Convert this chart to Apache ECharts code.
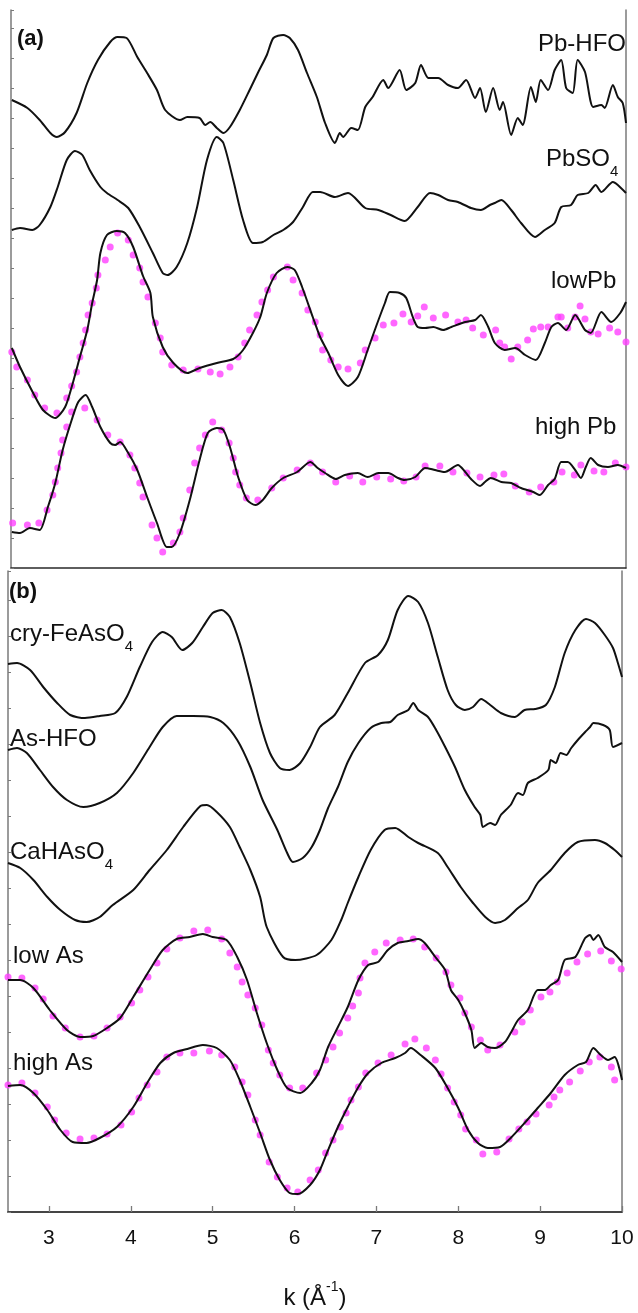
<!DOCTYPE html>
<html>
<head>
<meta charset="utf-8">
<script src="https://cdn.jsdelivr.net/npm/echarts/dist/echarts.min.js"></script>
<style>
  html, body { margin: 0; padding: 0; background: #fff; }
  #chart { width: 638px; height: 1313px; }
</style>
</head>
<body>
<div id="chart"></div>
<script>
// k axis ticks (both panels share 2.5 - 10)
const kTicks = [3, 4, 5, 6, 7, 8, 9, 10];

// ---- panel (a): Pb edge, curves stacked with offsets (arb. units) ----
const pbHfo = [[2.51,46.8],[2.70,46.0],[2.85,44.8],[2.98,43.5],[3.06,43.1],[3.16,43.6],[3.30,45.5],[3.43,48.5],[3.56,50.8],[3.71,52.6],[3.80,53.1],[3.91,53.0],[4.04,51.1],[4.16,49.5],[4.28,47.8],[4.38,45.8],[4.56,44.8],[4.65,45.1],[4.80,45.0],[4.87,44.3],[4.93,44.6],[5.01,44.0],[5.09,43.5],[5.17,44.1],[5.29,45.8],[5.41,47.8],[5.51,49.5],[5.62,51.3],[5.70,53.0],[5.82,53.3],[5.90,53.0],[6.00,51.8],[6.11,49.5],[6.23,47.1],[6.33,44.5],[6.45,42.5],[6.51,43.5],[6.55,43.1],[6.65,44.0],[6.73,43.8],[6.82,46.1],[6.91,47.1],[7.04,48.8],[7.10,48.0],[7.24,49.8],[7.32,47.8],[7.43,48.5],[7.50,50.3],[7.59,49.0],[7.71,49.0],[7.83,48.3],[7.95,48.0],[8.05,48.8],[8.16,47.0],[8.22,48.0],[8.29,45.6],[8.38,48.0],[8.46,45.8],[8.50,46.6],[8.60,43.3],[8.68,45.0],[8.74,44.3],[8.84,48.1],[8.90,46.6],[8.96,48.8],[9.05,47.8],[9.13,49.8],[9.21,50.8],[9.27,48.0],[9.35,47.5],[9.41,50.8],[9.50,49.6],[9.60,46.1],[9.70,46.3],[9.74,46.0],[9.84,48.3],[9.90,47.1],[9.96,46.5],[10.0,44.5]];

const pbSo4 = [[2.51,33.8],[2.61,34.0],[2.76,33.8],[2.85,34.3],[2.98,36.1],[3.07,38.1],[3.18,40.8],[3.28,41.7],[3.37,41.3],[3.46,39.8],[3.59,38.1],[3.67,37.5],[3.80,36.8],[3.93,36.0],[4.07,34.1],[4.23,31.5],[4.35,29.5],[4.41,29.3],[4.52,30.1],[4.65,32.5],[4.77,36.1],[4.89,40.8],[5.01,43.1],[5.09,42.5],[5.21,38.8],[5.33,34.8],[5.45,32.5],[5.57,32.6],[5.70,33.3],[5.82,33.8],[5.94,34.6],[6.06,36.1],[6.18,37.6],[6.27,37.6],[6.45,37.1],[6.61,37.5],[6.82,36.0],[6.98,35.8],[7.13,35.3],[7.30,34.7],[7.46,36.1],[7.61,37.5],[7.71,37.3],[7.83,36.8],[7.95,36.6],[8.11,36.0],[8.23,35.8],[8.34,36.3],[8.40,36.5],[8.48,36.8],[8.60,35.8],[8.72,34.5],[8.89,33.1],[9.01,33.8],[9.13,34.5],[9.21,36.1],[9.33,36.3],[9.41,37.3],[9.54,37.5],[9.63,38.3],[9.70,37.6],[9.84,38.6],[9.90,38.3],[10.0,37.5]];

const lowPb = [[2.51,22.0],[2.61,20.1],[2.77,17.5],[2.89,15.8],[3.04,15.0],[3.16,16.1],[3.24,18.1],[3.34,21.1],[3.43,23.8],[3.49,26.5],[3.55,28.8],[3.59,31.5],[3.67,33.3],[3.79,33.7],[3.89,33.5],[3.99,32.1],[4.11,29.2],[4.20,27.5],[4.23,25.1],[4.35,22.1],[4.48,20.5],[4.65,19.5],[4.80,20.0],[5.01,20.5],[5.21,20.9],[5.33,21.8],[5.45,23.5],[5.54,25.1],[5.62,27.5],[5.74,29.5],[5.87,30.1],[5.96,29.8],[6.05,28.1],[6.18,25.1],[6.27,23.1],[6.37,21.5],[6.49,19.3],[6.61,18.2],[6.73,19.1],[6.85,21.8],[6.95,24.1],[7.06,26.5],[7.12,27.6],[7.24,27.5],[7.32,27.0],[7.40,25.1],[7.46,24.1],[7.55,24.0],[7.65,24.1],[7.77,23.8],[7.87,24.1],[8.04,24.6],[8.16,24.8],[8.23,25.3],[8.32,24.1],[8.40,22.5],[8.52,21.8],[8.65,22.0],[8.77,21.3],[8.90,20.8],[9.01,22.5],[9.09,24.1],[9.17,24.5],[9.27,23.8],[9.38,25.3],[9.50,23.8],[9.57,23.5],[9.70,25.6],[9.82,24.6],[9.93,25.5],[10.0,26.6]];

const lowPbFit = [[2.51,21.6],[2.57,20.1],[2.70,18.8],[2.79,17.3],[2.91,16.0],[3.06,15.5],[3.18,17.0],[3.24,18.2],[3.30,19.6],[3.34,21.1],[3.38,22.5],[3.41,23.8],[3.44,25.3],[3.49,26.5],[3.54,28.0],[3.56,29.3],[3.65,30.8],[3.71,32.1],[3.80,33.5],[3.93,32.8],[3.99,31.3],[4.07,30.0],[4.11,28.6],[4.17,27.1],[4.26,24.5],[4.32,23.0],[4.35,21.6],[4.46,20.3],[4.60,19.8],[4.78,19.9],[4.93,19.6],[5.05,19.4],[5.17,20.1],[5.27,21.1],[5.35,22.5],[5.41,23.8],[5.50,25.3],[5.56,26.6],[5.63,27.8],[5.70,29.1],[5.87,30.1],[5.94,28.8],[6.05,27.5],[6.12,25.8],[6.21,24.6],[6.27,23.3],[6.30,21.8],[6.40,20.8],[6.49,20.1],[6.61,19.9],[6.76,20.5],[6.82,21.8],[6.94,23.0],[7.04,24.3],[7.17,24.5],[7.28,25.4],[7.38,24.6],[7.46,25.2],[7.54,26.1],[7.65,25.0],[7.80,25.3],[7.95,24.6],[8.05,24.8],[8.13,24.0],[8.26,23.3],[8.41,23.8],[8.46,22.5],[8.52,22.1],[8.60,20.9],[8.68,22.1],[8.80,22.8],[8.87,23.9],[8.96,24.1],[9.05,24.1],[9.17,25.1],[9.21,25.1],[9.29,24.0],[9.38,25.1],[9.44,26.2],[9.50,24.9],[9.57,23.6],[9.66,23.4],[9.80,24.0],[9.90,23.6],[10.0,22.6]];

const highPb = [[2.51,3.6],[2.61,3.5],[2.73,4.0],[2.85,3.8],[2.95,6.1],[3.04,8.5],[3.13,11.8],[3.24,14.8],[3.32,16.6],[3.41,17.3],[3.49,16.1],[3.59,14.1],[3.71,12.5],[3.77,12.3],[3.83,12.6],[3.93,11.5],[4.04,9.8],[4.16,7.1],[4.28,4.5],[4.40,2.1],[4.46,2.1],[4.56,3.5],[4.68,6.8],[4.80,10.8],[4.90,13.5],[5.01,14.0],[5.09,13.8],[5.17,12.1],[5.27,9.1],[5.38,6.8],[5.48,6.3],[5.57,6.8],[5.68,8.0],[5.82,9.0],[5.99,9.6],[6.15,10.6],[6.24,10.0],[6.33,9.5],[6.46,8.9],[6.57,9.3],[6.73,9.5],[6.85,9.1],[6.98,9.5],[7.10,9.5],[7.22,9.0],[7.30,8.8],[7.43,9.1],[7.55,10.0],[7.67,9.8],[7.79,9.6],[7.95,10.3],[8.04,9.6],[8.11,8.9],[8.22,8.2],[8.28,8.6],[8.35,9.0],[8.48,8.6],[8.60,8.5],[8.72,8.0],[8.87,7.6],[8.95,7.3],[9.05,8.3],[9.13,8.9],[9.21,10.6],[9.29,10.6],[9.38,9.8],[9.45,9.0],[9.51,10.1],[9.57,11.0],[9.66,10.3],[9.78,10.1],[9.90,10.3],[10.0,10.0]];

const highPbFit = [[2.52,4.5],[2.70,4.3],[2.84,4.5],[2.94,5.8],[3.01,7.3],[3.04,8.6],[3.07,10.0],[3.11,11.5],[3.13,12.8],[3.18,14.1],[3.24,15.6],[3.40,16.0],[3.55,14.8],[3.68,13.3],[3.83,12.6],[3.95,11.3],[4.01,10.0],[4.07,8.5],[4.11,7.1],[4.22,4.3],[4.28,3.0],[4.35,1.6],[4.48,2.5],[4.56,3.6],[4.60,5.0],[4.68,7.8],[4.74,10.5],[4.80,12.0],[4.87,13.3],[4.96,14.6],[5.07,13.8],[5.16,12.5],[5.21,11.0],[5.24,9.6],[5.29,8.3],[5.37,7.0],[5.51,6.8],[5.68,8.0],[5.82,9.0],[5.99,9.8],[6.15,10.5],[6.30,9.6],[6.46,8.6],[6.63,9.2],[6.79,8.6],[6.96,9.1],[7.13,8.9],[7.29,8.7],[7.44,9.1],[7.55,10.2],[7.73,10.2],[7.89,9.6],[8.06,9.5],[8.22,9.1],[8.39,9.3],[8.51,9.4],[8.65,8.2],[8.82,7.6],[8.96,8.1],[9.12,8.6],[9.22,9.6],[9.37,9.3],[9.45,10.3],[9.61,9.7],[9.73,9.6],[9.87,10.5],[10.0,10.1]];

// ---- panel (b): As edge ----
const cryFeAsO4 = [[2.50,54.8],[2.61,54.9],[2.77,54.2],[2.93,52.5],[3.10,50.9],[3.26,49.7],[3.44,49.4],[3.62,49.6],[3.81,49.9],[3.95,51.5],[4.11,54.5],[4.26,57.0],[4.39,58.0],[4.50,57.5],[4.63,56.2],[4.75,56.9],[4.88,58.5],[5.00,59.9],[5.11,60.2],[5.21,59.5],[5.33,56.9],[5.46,52.9],[5.58,48.9],[5.70,45.9],[5.82,44.4],[5.94,44.2],[6.07,44.9],[6.19,46.5],[6.31,48.5],[6.49,49.7],[6.65,51.9],[6.86,54.9],[7.02,55.7],[7.14,57.2],[7.26,60.2],[7.39,61.6],[7.51,61.0],[7.63,58.9],[7.75,55.5],[7.87,52.2],[7.97,50.7],[8.08,50.2],[8.18,50.5],[8.28,51.3],[8.39,50.7],[8.52,49.9],[8.69,49.5],[8.81,50.2],[8.94,50.3],[9.07,50.7],[9.18,52.5],[9.30,55.9],[9.43,58.2],[9.56,59.3],[9.67,58.9],[9.79,57.7],[9.89,56.4],[9.95,54.9],[10.0,53.5]];

const asHfo = [[2.50,46.2],[2.61,46.4],[2.73,45.9],[2.89,44.2],[3.05,42.5],[3.22,41.2],[3.42,40.5],[3.62,40.9],[3.83,41.9],[4.03,43.9],[4.23,46.5],[4.39,48.5],[4.56,49.6],[4.76,49.6],[4.97,49.5],[5.13,48.9],[5.30,47.2],[5.46,44.5],[5.61,41.2],[5.79,38.2],[5.91,35.9],[5.98,35.0],[6.10,35.4],[6.21,36.5],[6.31,38.2],[6.41,40.4],[6.53,42.5],[6.65,45.0],[6.78,46.9],[6.93,48.4],[7.06,48.9],[7.17,49.0],[7.26,49.7],[7.39,50.2],[7.45,50.9],[7.51,50.2],[7.63,49.5],[7.73,48.2],[7.84,46.5],[7.96,44.5],[8.08,42.2],[8.20,40.5],[8.27,39.7],[8.30,38.5],[8.39,38.9],[8.45,38.7],[8.52,39.7],[8.64,40.7],[8.73,41.9],[8.79,41.7],[8.85,42.9],[8.97,43.4],[9.10,44.2],[9.13,45.2],[9.19,44.9],[9.25,45.9],[9.32,45.7],[9.38,46.4],[9.46,47.2],[9.55,48.0],[9.61,48.5],[9.65,48.9],[9.77,48.7],[9.85,48.2],[9.89,46.5],[10.0,46.9]];

const caHAsO4 = [[2.50,34.9],[2.65,34.4],[2.81,33.2],[2.98,31.5],[3.14,30.2],[3.32,29.2],[3.46,29.0],[3.62,29.5],[3.78,30.7],[4.03,32.2],[4.23,34.2],[4.44,36.2],[4.64,38.5],[4.85,40.6],[4.93,40.7],[5.05,40.0],[5.21,38.5],[5.33,36.5],[5.46,34.2],[5.58,31.5],[5.66,28.5],[5.86,25.5],[6.01,25.2],[6.27,25.7],[6.45,27.2],[6.57,29.2],[6.65,30.9],[6.78,33.5],[6.93,36.2],[7.10,38.2],[7.23,38.4],[7.39,37.5],[7.51,36.9],[7.75,35.9],[7.87,34.5],[8.03,32.5],[8.18,30.9],[8.33,29.5],[8.45,28.9],[8.57,29.2],[8.73,30.4],[8.85,31.2],[8.97,32.9],[9.13,34.2],[9.30,35.9],[9.46,37.0],[9.67,37.2],[9.79,36.9],[9.91,36.2],[10.0,35.5]];

const lowAs = [[2.50,23.2],[2.65,23.2],[2.81,22.4],[3.01,20.2],[3.22,18.2],[3.38,17.5],[3.54,17.6],[3.71,18.4],[3.87,19.4],[4.03,21.5],[4.23,24.2],[4.39,26.2],[4.56,27.3],[4.72,27.5],[4.88,27.8],[5.00,27.5],[5.17,27.2],[5.30,25.5],[5.42,23.2],[5.54,19.9],[5.66,16.9],[5.79,14.2],[5.91,12.4],[6.07,11.9],[6.21,12.9],[6.31,14.2],[6.41,16.5],[6.53,18.5],[6.65,20.5],[6.78,23.2],[6.90,24.7],[7.02,25.0],[7.14,26.2],[7.26,26.9],[7.39,27.1],[7.51,27.3],[7.59,26.9],[7.72,25.5],[7.84,24.2],[7.91,22.2],[8.00,21.2],[8.08,19.9],[8.16,18.2],[8.20,16.4],[8.28,16.9],[8.36,16.5],[8.45,16.4],[8.57,17.0],[8.64,17.9],[8.73,19.2],[8.85,20.2],[8.97,22.2],[9.06,22.2],[9.13,22.7],[9.22,23.2],[9.30,25.2],[9.43,25.5],[9.55,27.4],[9.61,27.7],[9.65,27.2],[9.71,27.7],[9.79,26.5],[9.89,26.0],[10.0,25.0]];

const lowAsFit = [[2.50,23.5],[2.67,23.4],[2.83,22.4],[2.93,21.3],[3.05,19.6],[3.20,18.4],[3.38,17.5],[3.55,17.6],[3.71,18.4],[3.87,19.5],[4.01,20.9],[4.11,22.2],[4.21,23.5],[4.32,24.9],[4.44,26.3],[4.60,27.4],[4.77,28.1],[4.94,28.2],[5.11,27.3],[5.21,25.9],[5.30,24.5],[5.36,23.0],[5.43,21.7],[5.52,20.4],[5.60,18.7],[5.68,16.2],[5.74,14.9],[5.82,13.7],[5.94,12.4],[6.10,12.4],[6.27,13.9],[6.38,15.2],[6.47,16.5],[6.55,17.9],[6.65,19.4],[6.71,20.6],[6.78,21.9],[6.80,23.4],[6.86,24.9],[6.98,26.0],[7.12,26.9],[7.29,27.2],[7.45,27.3],[7.59,26.5],[7.73,25.4],[7.85,24.0],[7.91,22.7],[8.02,21.4],[8.08,19.9],[8.16,18.5],[8.27,17.2],[8.36,16.2],[8.51,16.7],[8.69,18.0],[8.78,19.0],[8.88,20.2],[9.01,21.5],[9.12,22.0],[9.21,23.0],[9.33,23.9],[9.45,25.0],[9.58,25.8],[9.74,26.1],[9.87,25.1],[9.99,24.3]];

const highAs = [[2.50,12.6],[2.65,12.7],[2.81,11.9],[2.98,10.2],[3.14,8.2],[3.29,7.0],[3.46,6.9],[3.62,7.4],[3.83,8.5],[4.03,10.5],[4.20,12.9],[4.36,14.9],[4.52,15.9],[4.69,16.3],[4.88,16.7],[5.05,16.4],[5.21,15.2],[5.33,13.2],[5.46,10.5],[5.58,7.9],[5.70,5.2],[5.82,3.2],[5.94,1.9],[6.04,1.8],[6.19,2.7],[6.31,4.2],[6.41,6.2],[6.53,8.5],[6.65,10.5],[6.78,12.5],[6.90,13.9],[7.06,14.9],[7.23,15.4],[7.35,15.9],[7.42,16.4],[7.54,15.7],[7.72,14.4],[7.87,12.4],[8.00,10.4],[8.12,8.2],[8.24,6.9],[8.36,6.4],[8.51,6.5],[8.64,7.4],[8.81,8.9],[8.97,10.4],[9.13,11.9],[9.30,13.7],[9.46,14.7],[9.56,15.0],[9.65,16.4],[9.74,15.7],[9.83,15.2],[9.91,15.5],[10.0,13.2]];

const highAsFit = [[2.50,12.7],[2.67,12.9],[2.83,11.9],[2.98,10.5],[3.07,9.2],[3.21,7.9],[3.38,7.3],[3.55,7.4],[3.71,7.8],[3.88,8.7],[4.01,10.0],[4.10,11.4],[4.20,12.7],[4.32,14.0],[4.44,15.5],[4.60,15.9],[4.77,15.9],[4.96,16.1],[5.11,15.7],[5.27,14.5],[5.36,13.0],[5.43,11.7],[5.52,9.2],[5.58,7.7],[5.69,5.0],[5.79,3.5],[5.91,2.4],[6.04,2.0],[6.19,3.2],[6.29,4.2],[6.38,5.9],[6.47,7.2],[6.56,8.5],[6.63,9.9],[6.69,11.2],[6.78,12.5],[6.87,13.9],[7.02,14.9],[7.18,15.7],[7.35,16.8],[7.47,17.3],[7.61,16.4],[7.72,15.2],[7.79,13.8],[7.87,12.4],[7.95,11.0],[8.03,9.7],[8.09,8.3],[8.22,7.2],[8.30,5.8],[8.47,6.0],[8.62,7.3],[8.74,8.3],[8.84,9.0],[8.95,9.8],[9.11,10.7],[9.17,11.5],[9.24,12.2],[9.36,13.0],[9.49,14.1],[9.60,15.0],[9.73,15.5],[9.87,14.5],[9.91,13.2]];

const FONT = 'Liberation Sans, Arial, Helvetica, sans-serif';
const FIT_COLOR = '#ff40ff';

const chart = echarts.init(document.getElementById('chart'), null, { renderer: 'canvas' });

function lineSeries(data, xi, yi) {
  return {
    type: 'line', data: data, xAxisIndex: xi, yAxisIndex: yi,
    showSymbol: false, smooth: 0.25, z: 3, animation: false,
    lineStyle: { color: '#111', width: 2 }
  };
}
function fitSeries(data, xi, yi) {
  return {
    type: 'scatter', data: data, xAxisIndex: xi, yAxisIndex: yi,
    symbolSize: 7, z: 2, animation: false,
    itemStyle: { color: FIT_COLOR }
  };
}
function label(text, x, y, size, bold) {
  return {
    type: 'text', left: x, top: y, z: 10,
    style: { text: text, font: (bold ? 'bold ' : '') + size + 'px ' + FONT, fill: '#111' }
  };
}
// label with a subscript tail (PbSO4, CaHAsO4 ...)
function subLabel(main, sub, x, y) {
  return {
    type: 'text', left: x, top: y, z: 10,
    style: {
      text: '{m|' + main + '}{s|' + sub + '}',
      rich: {
        m: { fontSize: 24, fontFamily: FONT, lineHeight: 24, verticalAlign: 'top', fill: '#111', color: '#111' },
        s: { fontSize: 15, fontFamily: FONT, lineHeight: 32, verticalAlign: 'bottom', fill: '#111', color: '#111' }
      }
    }
  };
}

const axisGray = { show: true, lineStyle: { color: '#7a7a7a', width: 1.5 } };
const frameDark = { show: true, lineStyle: { color: '#2a2a2a', width: 1.5 } };
const hidden = { show: false };

const option = {
  backgroundColor: '#fff',
  animation: false,
  grid: [
    { left: 11, right: 12, top: 10, height: 558 },
    { left: 8, right: 16, top: 571, height: 641 }
  ],
  xAxis: [
    { gridIndex: 0, type: 'value', min: 2.5, max: 10, position: 'bottom',
      axisLine: hidden, axisTick: hidden, axisLabel: hidden, splitLine: hidden },
    { gridIndex: 0, type: 'value', min: 2.5, max: 10, position: 'top',
      axisLine: frameDark, axisTick: hidden, axisLabel: hidden, splitLine: hidden },
    { gridIndex: 1, type: 'value', min: 2.5, max: 10, position: 'bottom',
      axisLine: axisGray,
      axisTick: { show: true, inside: true, length: 6, customValues: kTicks, lineStyle: { color: '#7a7a7a', width: 1.3 } },
      axisLabel: { show: true, customValues: kTicks, margin: 16, fontSize: 21, fontFamily: FONT, color: '#111' },
      splitLine: hidden,
      name: '{m|k (Å}{s|-1}{m|)}',
      nameLocation: 'middle', nameGap: 68,
      nameTextStyle: {
        rich: {
          m: { fontSize: 24, fontFamily: FONT, color: '#111', lineHeight: 30, verticalAlign: 'bottom' },
          s: { fontSize: 14, fontFamily: FONT, color: '#111', lineHeight: 16, verticalAlign: 'top' }
        }
      }
    },
    { gridIndex: 1, type: 'value', min: 2.5, max: 10, position: 'top',
      axisLine: frameDark, axisTick: hidden, axisLabel: hidden, splitLine: hidden }
  ],
  yAxis: [
    { gridIndex: 0, type: 'value', min: 0, max: 55.8, interval: 3, position: 'left',
      axisLine: axisGray,
      axisTick: { show: true, inside: true, length: 3, lineStyle: { color: '#7a7a7a' } },
      axisLabel: hidden, splitLine: hidden },
    { gridIndex: 0, type: 'value', min: 0, max: 55.8, position: 'right',
      axisLine: axisGray, axisTick: hidden, axisLabel: hidden, splitLine: hidden },
    { gridIndex: 1, type: 'value', min: 0, max: 64.1, interval: 3.6, position: 'left',
      axisLine: axisGray,
      axisTick: { show: true, inside: true, length: 3, lineStyle: { color: '#7a7a7a' } },
      axisLabel: hidden, splitLine: hidden },
    { gridIndex: 1, type: 'value', min: 0, max: 64.1, position: 'right',
      axisLine: axisGray, axisTick: hidden, axisLabel: hidden, splitLine: hidden }
  ],
  series: [
    lineSeries(pbHfo, 0, 0),
    lineSeries(pbSo4, 0, 0),
    fitSeries(lowPbFit, 0, 0),
    lineSeries(lowPb, 0, 0),
    fitSeries(highPbFit, 0, 0),
    lineSeries(highPb, 0, 0),
    lineSeries(cryFeAsO4, 2, 2),
    lineSeries(asHfo, 2, 2),
    lineSeries(caHAsO4, 2, 2),
    fitSeries(lowAsFit, 2, 2),
    lineSeries(lowAs, 2, 2),
    fitSeries(highAsFit, 2, 2),
    lineSeries(highAs, 2, 2)
  ],
  graphic: [
    label('(a)', 17, 28, 22, true),
    label('(b)', 9, 581, 22, true),
    label('Pb-HFO', 538, 32, 24),
    subLabel('PbSO', '4', 546, 147),
    label('lowPb', 551, 269, 24),
    label('high Pb', 535, 415, 24),
    subLabel('cry-FeAsO', '4', 10, 622),
    label('As-HFO', 10, 727, 24),
    subLabel('CaHAsO', '4', 10, 840),
    label('low As', 13, 944, 24),
    label('high As', 13, 1051, 24)
  ]
};

chart.setOption(option);
</script>
</body>
</html>
